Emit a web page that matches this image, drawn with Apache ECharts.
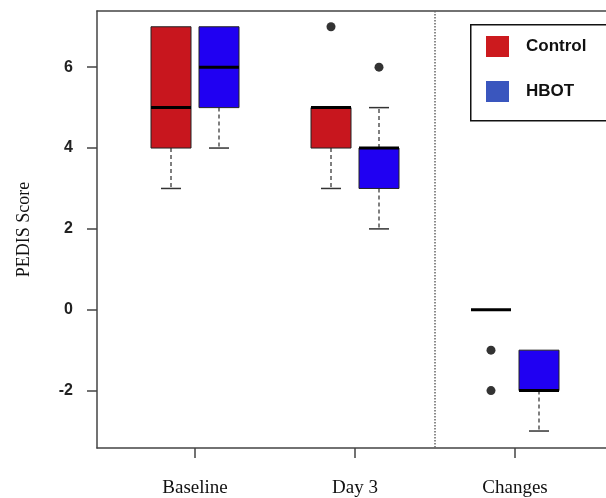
<!DOCTYPE html>
<html>
<head>
<meta charset="utf-8">
<script src="https://cdn.jsdelivr.net/npm/echarts@6/dist/echarts.min.js"></script>
<style>
html,body{margin:0;padding:0;background:#fff;}
#c{width:606px;height:498px;}
</style>
</head>
<body>
<div id="c"></div>
<script>
// Categories (x positions 1,2,3)
const categories = ['Baseline', 'Day 3', 'Changes'];
const yTicks = [-2, 0, 2, 4, 6];
// Box stats per category: [min, Q1, median, Q3, max]
const controlBoxes = [
  [3, 4, 5, 7, 7],
  [3, 4, 5, 5, 5],
  [0, 0, 0, 0, 0]
];
const hbotBoxes = [
  [4, 5, 6, 7, 7],
  [2, 3, 4, 4, 5],
  [-3, -2, -2, -1, -1]
];
// Outliers: [categoryIndex, value]
const controlOutliers = [[1, 7], [2, -1], [2, -2]];
const hbotOutliers = [[1, 6]];
const separatorAt = 2.5;

const OFFSET = 0.15, BOXW = 0.25;
const colControl = '#C8161E', colHbot = '#2000F2';
const X_MIN = 0.3875, X_MAX = 0.3875 + 509 / 160;

function boxData(boxes, off) {
  return boxes.map((b, i) => [i + 1 + off].concat(b));
}

function renderBox(fill) {
  return function (params, api) {
    const x = api.value(0);
    const mn = api.value(1), q1 = api.value(2), md = api.value(3), q3 = api.value(4), mx = api.value(5);
    const w = api.size([BOXW, 0])[0];
    const capW = w * 0.5;
    const px = api.coord([x, 0])[0];
    const y = v => api.coord([x, v])[1];
    const children = [];
    const dash = { stroke: '#555', lineWidth: 1.5, lineDash: [4, 3] };
    const cap = { stroke: '#333', lineWidth: 1.5 };
    if (mn < q1) {
      children.push({ type: 'line', shape: { x1: px, y1: y(q1), x2: px, y2: y(mn) }, style: dash });
      children.push({ type: 'line', shape: { x1: px - capW / 2, y1: y(mn), x2: px + capW / 2, y2: y(mn) }, style: cap });
    }
    if (mx > q3) {
      children.push({ type: 'line', shape: { x1: px, y1: y(q3), x2: px, y2: y(mx) }, style: dash });
      children.push({ type: 'line', shape: { x1: px - capW / 2, y1: y(mx), x2: px + capW / 2, y2: y(mx) }, style: cap });
    }
    if (q3 > q1) {
      children.push({ type: 'rect', shape: { x: px - w / 2, y: y(q3), width: w, height: y(q1) - y(q3) },
        style: { fill: fill, stroke: '#222', lineWidth: 1 } });
    }
    children.push({ type: 'line', shape: { x1: px - w / 2, y1: y(md), x2: px + w / 2, y2: y(md) },
      style: { stroke: '#000', lineWidth: 3 } });
    return { type: 'group', children: children };
  };
}

const chart = echarts.init(document.getElementById('c'), null, { renderer: 'canvas' });
const option = {
  animation: false,
  backgroundColor: '#fff',
  grid: { left: 97, right: 0, top: 11, bottom: 48 },
  xAxis: [{
    type: 'value', min: X_MIN, max: X_MAX,
    splitLine: { show: false },
    axisLine: { show: true, onZero: false, lineStyle: { color: '#444', width: 1.5 } },
    axisTick: { show: true, customValues: [1, 2, 3], length: 10, lineStyle: { color: '#444', width: 1.5 } },
    axisLabel: { customValues: [1, 2, 3], formatter: v => categories[Math.round(v) - 1] || '',
      margin: 31, fontFamily: 'Liberation Serif', fontSize: 19, color: '#111' }
  }, {
    type: 'value', position: 'top', min: X_MIN, max: X_MAX,
    splitLine: { show: false },
    axisLine: { show: true, onZero: false, lineStyle: { color: '#444', width: 1.5 } },
    axisTick: { show: false }, axisLabel: { show: false }
  }],
  yAxis: {
    type: 'value', min: -3.42, max: 7.39,
    splitLine: { show: false },
    axisLine: { show: true, onZero: false, lineStyle: { color: '#444', width: 1.5 } },
    axisTick: { show: true, customValues: yTicks, length: 10, lineStyle: { color: '#444', width: 1.5 } },
    axisLabel: { customValues: yTicks, margin: 24, fontFamily: 'Liberation Sans', fontWeight: 'bold', fontSize: 16, color: '#222' },
    name: 'PEDIS Score', nameLocation: 'middle', nameGap: 64,
    nameTextStyle: { fontFamily: 'Liberation Serif', fontSize: 18, color: '#111' }
  },
  graphic: [{
    type: 'rect', left: 470, top: 24, z: 50,
    shape: { width: 160, height: 96 },
    style: { fill: '#fff', stroke: '#111', lineWidth: 1.5 }
  }],
  legend: {
    orient: 'vertical', left: 470, top: 24, z: 60,
    padding: [12, 20, 19, 16], itemGap: 24, itemWidth: 23, itemHeight: 21,
    borderWidth: 0,
    icon: 'rect',
    textStyle: { fontFamily: 'Liberation Sans', fontWeight: 'bold', fontSize: 17, color: '#111', padding: [0, 0, 0, 12] },
    data: [
      { name: 'Control', itemStyle: { color: '#CC1A1E', borderWidth: 0 } },
      { name: 'HBOT', itemStyle: { color: '#3A56BE', borderWidth: 0 } }
    ]
  },
  series: [
    {
      name: 'separator', type: 'custom', silent: true,
      data: [[separatorAt]],
      renderItem: function (params, api) {
        const top = api.coord([api.value(0), 7.39]);
        const bot = api.coord([api.value(0), -3.42]);
        return { type: 'line', shape: { x1: top[0], y1: top[1], x2: bot[0], y2: bot[1] },
          style: { stroke: '#666', lineWidth: 1.5, lineDash: [1.5, 1.5] } };
      }
    },
    { name: 'Control', type: 'custom', itemStyle: { color: colControl }, data: boxData(controlBoxes, -OFFSET),
      encode: { x: 0, y: [1, 2, 3, 4, 5] }, renderItem: renderBox(colControl) },
    { name: 'HBOT', type: 'custom', itemStyle: { color: colHbot }, data: boxData(hbotBoxes, OFFSET),
      encode: { x: 0, y: [1, 2, 3, 4, 5] }, renderItem: renderBox(colHbot) },
    { name: 'Control outliers', type: 'scatter', symbolSize: 9, itemStyle: { color: '#000' },
      data: controlOutliers.map(p => [p[0] + 1 - OFFSET, p[1]]) },
    { name: 'HBOT outliers', type: 'scatter', symbolSize: 9, itemStyle: { color: '#000' },
      data: hbotOutliers.map(p => [p[0] + 1 + OFFSET, p[1]]) }
  ]
};
chart.setOption(option);
</script>
</body>
</html>
